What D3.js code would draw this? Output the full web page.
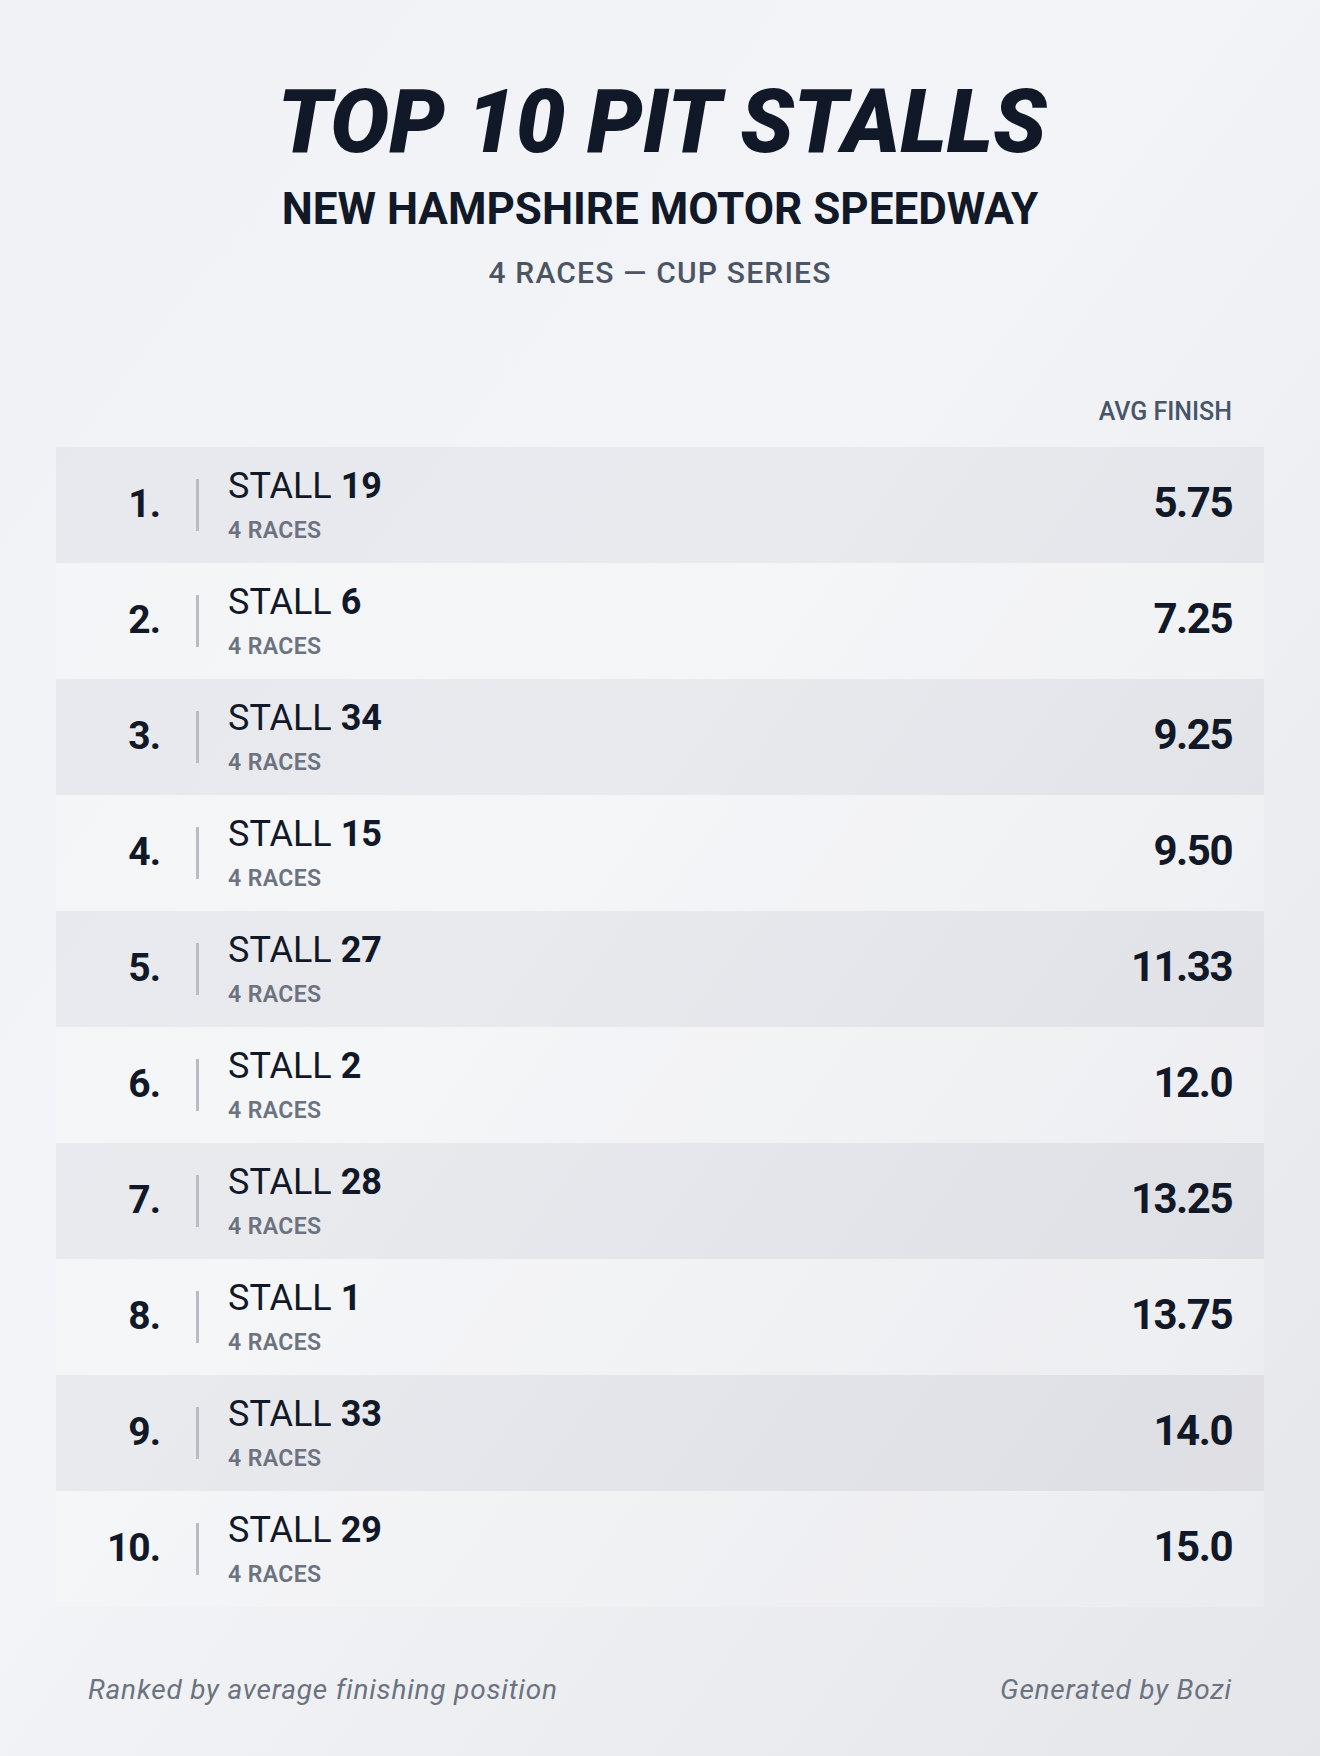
<!DOCTYPE html>
<html>
<head>
<meta charset="utf-8">
<script src="https://cdn.jsdelivr.net/npm/d3@7"></script>
<style>
  html, body { margin: 0; padding: 0; }
  body { width: 1320px; height: 1756px; overflow: hidden; }
  svg { display: block; font-family: Roboto, "Noto Sans", sans-serif; }
</style>
</head>
<body>
<div id="chart"></div>
<script>
var ranks = [1, 2, 3, 4, 5, 6, 7, 8, 9, 10];
var stalls = [19, 6, 34, 15, 27, 2, 28, 1, 33, 29];
var races = [4, 4, 4, 4, 4, 4, 4, 4, 4, 4];
var avgFinish = [5.75, 7.25, 9.25, 9.5, 11.33, 12, 13.25, 13.75, 14, 15];
var decimals = [2, 2, 2, 2, 2, 1, 2, 2, 1, 1];

var W = 1320, H = 1756;
var dark = "#111827", muted = "#6b7280";

var svg = d3.select("#chart").append("svg").attr("width", W).attr("height", H);

// background gradient
var defs = svg.append("defs");
var grad = defs.append("linearGradient").attr("id", "bg")
	.attr("x1", "0%").attr("y1", "0%").attr("x2", "100%").attr("y2", "100%");
grad.append("stop").attr("offset", "0%").attr("stop-color", "#f1f2f6");
grad.append("stop").attr("offset", "45%").attr("stop-color", "#f3f4f7");
grad.append("stop").attr("offset", "100%").attr("stop-color", "#e5e6ea");
svg.append("rect").attr("width", W).attr("height", H).attr("fill", "url(#bg)");

// headings
svg.append("text").attr("x", 662).attr("y", 152)
	.attr("text-anchor", "middle").attr("fill", dark)
	.style("font-size", "88px").style("font-weight", 900).style("font-style", "italic")
	.text("TOP 10 PIT STALLS");

svg.append("text").attr("x", 660).attr("y", 224)
	.attr("text-anchor", "middle").attr("fill", dark)
	.style("font-size", "44px").style("font-weight", 700)
	.text("NEW HAMPSHIRE MOTOR SPEEDWAY");

svg.append("text").attr("x", 660).attr("y", 283)
	.attr("text-anchor", "middle").attr("fill", "#4b5563")
	.style("font-size", "30px").style("font-weight", 500).style("letter-spacing", "1.2px")
	.text("4 RACES \u2014 CUP SERIES");

svg.append("text").attr("x", 1232).attr("y", 420)
	.attr("text-anchor", "end").attr("fill", "#475569")
	.style("font-size", "25px").style("font-weight", 500)
	.text("AVG FINISH");

// rows
var y = d3.scaleBand().domain(ranks).range([447, 1607]).paddingInner(0);
var x = d3.scaleLinear().domain([0, 1]).range([56, 1264]);

var rows = svg.selectAll("g.row")
	.data(ranks)
	.enter()
	.append("g")
	.attr("class", "row")
	.attr("transform", function(d) { return "translate(0," + y(d) + ")"; });

rows.append("rect")
	.attr("x", x(0))
	.attr("width", x(1) - x(0))
	.attr("height", y.bandwidth())
	.attr("fill", function(d, i) { return i % 2 == 0 ? "rgba(17,24,39,0.045)" : "rgba(255,255,255,0.2)"; });

var mid = y.bandwidth() / 2;

rows.append("text")
	.attr("x", 160)
	.attr("y", mid + 12)
	.attr("text-anchor", "end")
	.attr("fill", dark)
	.style("font-size", "39px").style("font-weight", 700).style("letter-spacing", "-1px")
	.text(function(d) { return d + "."; });

rows.append("rect")
	.attr("x", 196)
	.attr("y", mid - 26)
	.attr("width", 3)
	.attr("height", 52)
	.attr("fill", "#b9bcc3");

var stallLabel = rows.append("text")
	.attr("x", 228)
	.attr("y", mid - 7)
	.attr("fill", dark)
	.style("font-size", "36px");
stallLabel.append("tspan").style("font-weight", 400).text("STALL ");
stallLabel.append("tspan").style("font-weight", 700).text(function(d, i) { return stalls[i]; });

rows.append("text")
	.attr("x", 228)
	.attr("y", mid + 33)
	.attr("fill", muted)
	.style("font-size", "23px").style("font-weight", 600).style("letter-spacing", "0.4px")
	.text(function(d, i) { return races[i] + " RACES"; });

rows.append("text")
	.attr("x", 1232)
	.attr("y", mid + 12)
	.attr("text-anchor", "end")
	.attr("fill", dark)
	.style("font-size", "42px").style("font-weight", 700).style("letter-spacing", "-1.5px")
	.text(function(d, i) { return avgFinish[i].toFixed(decimals[i]); });

// footer
svg.append("text").attr("x", 88).attr("y", 1699)
	.attr("fill", muted)
	.style("font-size", "28px").style("font-style", "italic").style("letter-spacing", "0.8px")
	.text("Ranked by average finishing position");

svg.append("text").attr("x", 1232).attr("y", 1699)
	.attr("text-anchor", "end").attr("fill", muted)
	.style("font-size", "28px").style("font-style", "italic").style("letter-spacing", "0.8px")
	.text("Generated by Bozi");
</script>
</body>
</html>
